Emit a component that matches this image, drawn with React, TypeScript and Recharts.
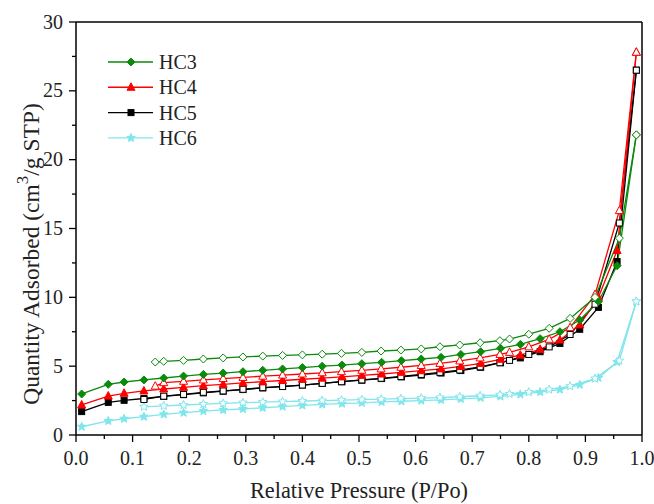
import React from "react";
import { LineChart, Line, XAxis, YAxis, ReferenceLine, Legend, Label } from "recharts";

// relative pressure steps, adsorption (rising) and desorption (falling)
const adsP = [0.01, 0.057, 0.085, 0.12, 0.155, 0.19, 0.225, 0.26, 0.295, 0.33, 0.365, 0.4, 0.435, 0.47, 0.505, 0.54, 0.575, 0.61, 0.645, 0.68, 0.715, 0.75, 0.785, 0.82, 0.855, 0.89, 0.923, 0.956, 0.99];
const desP14 = [0.99, 0.96, 0.917, 0.873, 0.836, 0.8, 0.766, 0.749, 0.714, 0.678, 0.643, 0.61, 0.574, 0.539, 0.505, 0.469, 0.435, 0.4, 0.365, 0.33, 0.295, 0.26, 0.225, 0.19, 0.155, 0.14];
const desP12 = [0.99, 0.96, 0.917, 0.873, 0.836, 0.8, 0.766, 0.749, 0.714, 0.678, 0.643, 0.61, 0.574, 0.539, 0.505, 0.469, 0.435, 0.4, 0.365, 0.33, 0.295, 0.26, 0.225, 0.19, 0.155, 0.12];

const hc3Ads = [2.98, 3.68, 3.85, 4.0, 4.14, 4.28, 4.4, 4.5, 4.6, 4.7, 4.8, 4.9, 5.0, 5.08, 5.18, 5.28, 5.4, 5.52, 5.64, 5.85, 6.05, 6.3, 6.58, 7.0, 7.5, 8.35, 9.7, 12.3, 21.8];
const hc3Des = [21.8, 14.3, 10.0, 8.47, 7.75, 7.32, 6.97, 6.85, 6.7, 6.54, 6.41, 6.25, 6.17, 6.1, 6.0, 5.93, 5.87, 5.82, 5.78, 5.73, 5.67, 5.6, 5.52, 5.42, 5.35, 5.3];
const hc4Ads = [2.18, 2.83, 3.03, 3.2, 3.34, 3.46, 3.58, 3.68, 3.78, 3.87, 3.96, 4.05, 4.13, 4.22, 4.33, 4.43, 4.55, 4.67, 4.8, 4.98, 5.2, 5.5, 5.8, 6.22, 6.9, 8.0, 10.0, 13.4, 27.8];
const hc4Des = [27.8, 16.3, 10.2, 7.8, 6.95, 6.4, 6.0, 5.85, 5.6, 5.38, 5.2, 5.05, 4.92, 4.8, 4.7, 4.6, 4.52, 4.43, 4.35, 4.27, 4.18, 4.1, 4.0, 3.9, 3.8, 3.55];
const hc5Ads = [1.7, 2.37, 2.52, 2.65, 2.8, 2.93, 3.06, 3.18, 3.3, 3.42, 3.53, 3.63, 3.75, 3.87, 3.98, 4.1, 4.22, 4.35, 4.5, 4.68, 4.92, 5.25, 5.6, 6.05, 6.65, 7.68, 9.27, 12.6, 26.5];
const hc5Des = [26.5, 15.4, 9.5, 7.3, 6.4, 5.85, 5.42, 5.25, 4.95, 4.72, 4.55, 4.4, 4.25, 4.12, 4.0, 3.87, 3.75, 3.63, 3.52, 3.44, 3.32, 3.2, 3.1, 2.95, 2.82, 2.58];
const hc6Ads = [0.6, 1.02, 1.18, 1.33, 1.5, 1.62, 1.74, 1.82, 1.89, 1.98, 2.06, 2.15, 2.22, 2.28, 2.34, 2.4, 2.45, 2.5, 2.55, 2.62, 2.7, 2.8, 2.95, 3.12, 3.3, 3.65, 4.15, 5.3, 9.7];
const hc6Des = [9.7, 5.4, 4.1, 3.55, 3.3, 3.12, 2.98, 2.92, 2.85, 2.78, 2.72, 2.68, 2.64, 2.6, 2.57, 2.54, 2.5, 2.47, 2.43, 2.39, 2.35, 2.3, 2.25, 2.18, 2.12, 2.05];

const xMajor = [0, 0.1, 0.2, 0.3, 0.4, 0.5, 0.6, 0.7, 0.8, 0.9, 1.0];
const xMinor = [0.05, 0.15, 0.25, 0.35, 0.45, 0.55, 0.65, 0.75, 0.85, 0.95];
const yMajor = [0, 5, 10, 15, 20, 25, 30];
const yMinor = [2.5, 7.5, 12.5, 17.5, 22.5, 27.5];

const FONT = '"Liberation Serif", "Times New Roman", serif';

type Shape = "diamond" | "triangle" | "square" | "star";

const series: { name: string; color: string; shape: Shape; ads: number[]; des: number[]; desP: number[] }[] = [
  { name: "HC3", color: "#0b8a0b", shape: "diamond", ads: hc3Ads, des: hc3Des, desP: desP14 },
  { name: "HC4", color: "#ff0000", shape: "triangle", ads: hc4Ads, des: hc4Des, desP: desP14 },
  { name: "HC5", color: "#000000", shape: "square", ads: hc5Ads, des: hc5Des, desP: desP12 },
  { name: "HC6", color: "#7fe6ec", shape: "star", ads: hc6Ads, des: hc6Des, desP: desP12 },
];

const toPoints = (xs: number[], ys: number[]) => xs.map((x, i) => ({ x, y: ys[i] }));

function Marker({ shape, x, y, color, filled }: { shape: Shape; x: number; y: number; color: string; filled: boolean }) {
  const fill = filled ? color : "#ffffff";
  const common = { fill, stroke: color, strokeWidth: 1 };
  if (shape === "diamond") {
    const r = 4;
    return <polygon points={`${x},${y - r} ${x + r},${y} ${x},${y + r} ${x - r},${y}`} {...common} />;
  }
  if (shape === "triangle") {
    return <polygon points={`${x},${y - 4.5} ${x + 4},${y + 3} ${x - 4},${y + 3}`} {...common} />;
  }
  if (shape === "square") {
    return <rect x={x - 3} y={y - 3} width={6} height={6} {...common} />;
  }
  const pts: string[] = [];
  for (let i = 0; i < 10; i++) {
    const r = i % 2 === 0 ? 4.5 : 2;
    const a = -Math.PI / 2 + (i * Math.PI) / 5;
    pts.push(`${x + r * Math.cos(a)},${y + r * Math.sin(a)}`);
  }
  return <polygon points={pts.join(" ")} {...common} />;
}

const makeDot = (shape: Shape, color: string, filled: boolean) => (props: any) => {
  const { cx, cy, index } = props;
  const key = `${shape}-${filled ? "f" : "o"}-${index}`;
  if (cx == null || cy == null) return <g key={key} />;
  return <Marker key={key} shape={shape} x={cx} y={cy} color={color} filled={filled} />;
};

const XTick = (props: any) => {
  const { x, y, payload } = props;
  const major = xMajor.includes(payload.value);
  return (
    <g>
      <line x1={x} y1={y} x2={x} y2={y + (major ? 7 : 4)} stroke="#000" strokeWidth={1.3} />
      {major && (
        <text x={x} y={y + 30} textAnchor="middle" fontSize={20} fontFamily={FONT} fill="#222">
          {payload.value.toFixed(1)}
        </text>
      )}
    </g>
  );
};

const YTick = (props: any) => {
  const { x, y, payload } = props;
  const major = yMajor.includes(payload.value);
  return (
    <g>
      <line x1={x} y1={y} x2={x - (major ? 7 : 4)} y2={y} stroke="#000" strokeWidth={1.3} />
      {major && (
        <text x={x - 13} y={y + 6.5} textAnchor="end" fontSize={20} fontFamily={FONT} fill="#222">
          {payload.value}
        </text>
      )}
    </g>
  );
};

const LegendBox = () => (
  <svg width={130} height={105}>
    {series.map((s, i) => {
      const cy = 14 + i * 25.3;
      return (
        <g key={s.name}>
          <line x1={8} y1={cy} x2={53} y2={cy} stroke={s.color} strokeWidth={1.4} />
          <Marker shape={s.shape} x={31} y={cy} color={s.color} filled />
          <text x={59} y={cy + 7} fontSize={20} fontFamily={FONT} fill="#222">
            {s.name}
          </text>
        </g>
      );
    })}
  </svg>
);

const YTitle = () => (
  <text transform="translate(39, 254) rotate(-90)" textAnchor="middle" fontSize={23.5} fontFamily={FONT} fill="#222">
    Quantity Adsorbed (cm
    <tspan dy={-11} fontSize={17}>3</tspan>
    <tspan dy={11}>/g STP)</tspan>
  </text>
);

export default function App() {
  const allX = [...xMajor, ...xMinor].sort((a, b) => a - b);
  const allY = [...yMajor, ...yMinor].sort((a, b) => a - b);
  return (
    <div style={{ position: "absolute", left: 0, top: 0, width: 654, height: 504, background: "#fff" }}>
      <LineChart width={654} height={504} margin={{ top: 22, right: 12, bottom: 0, left: 16 }}>
        <XAxis
          type="number"
          dataKey="x"
          domain={[0, 1]}
          ticks={allX}
          interval={0}
          tickSize={0}
          tickMargin={0}
          tickLine={false}
          tick={<XTick />}
          height={69}
          axisLine={{ stroke: "#000", strokeWidth: 1.5 }}
          allowDataOverflow
        >
          <Label value="Relative Pressure (P/Po)" position="insideBottom" offset={6} fontSize={22.3} fontFamily={FONT} fill="#222" />
        </XAxis>
        <YAxis
          type="number"
          dataKey="y"
          domain={[0, 30]}
          ticks={allY}
          interval={0}
          tickSize={0}
          tickMargin={0}
          tickLine={false}
          tick={<YTick />}
          width={60}
          axisLine={{ stroke: "#000", strokeWidth: 1.5 }}
          allowDataOverflow
        >
          <Label content={<YTitle />} />
        </YAxis>
        <ReferenceLine y={30} stroke="#000" strokeWidth={1.5} />
        <ReferenceLine x={1} stroke="#000" strokeWidth={1.5} />
        <Legend
          layout="vertical"
          align="center"
          verticalAlign="middle"
          content={<LegendBox />}
          wrapperStyle={{ left: 100, top: 48, width: 130, height: 105 }}
        />
        {[...series].reverse().flatMap((s) => [
          <Line
            key={`${s.name}-ads`}
            data={toPoints(adsP, s.ads)}
            dataKey="y"
            type="linear"
            stroke={s.color}
            strokeWidth={1.3}
            dot={makeDot(s.shape, s.color, true)}
            activeDot={false}
            legendType="none"
            isAnimationActive={false}
          />,
          <Line
            key={`${s.name}-des`}
            data={toPoints(s.desP, s.des)}
            dataKey="y"
            type="linear"
            stroke={s.color}
            strokeWidth={1.3}
            dot={makeDot(s.shape, s.color, false)}
            activeDot={false}
            legendType="none"
            isAnimationActive={false}
          />,
        ])}
      </LineChart>
    </div>
  );
}
